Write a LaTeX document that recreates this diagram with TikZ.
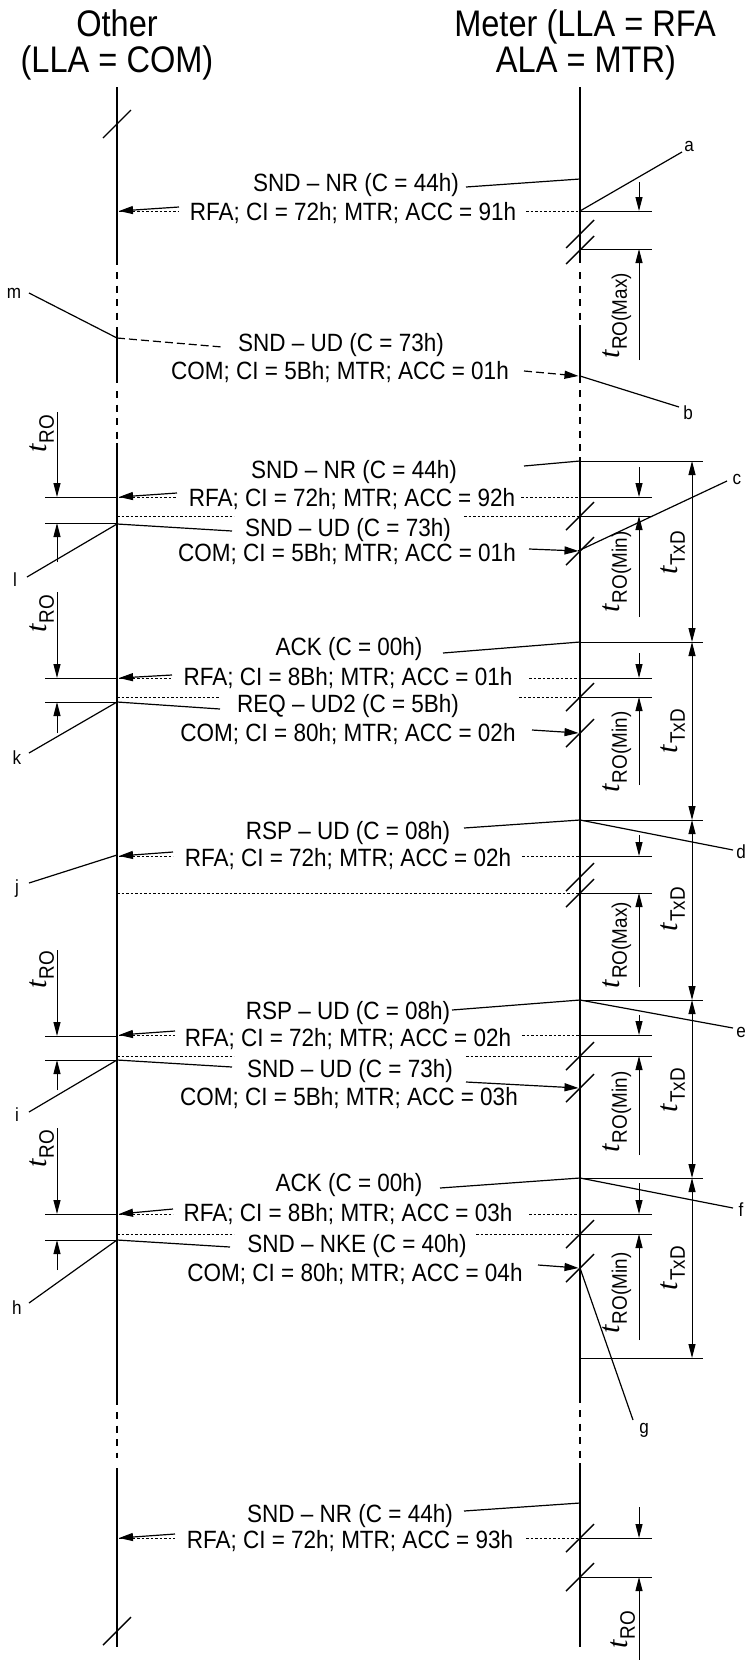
\documentclass[tikz,border=0pt]{standalone}
\usepackage{fontspec}
\setmainfont{Liberation Sans}
\newfontfamily\msgfont{Liberation Sans}[FakeStretch=0.9]
\newfontfamily\hdrfont{Liberation Sans}[FakeStretch=0.88]
\newfontfamily\tserif{Liberation Serif}
\usetikzlibrary{arrows.meta}
\newcommand{\tlab}[1]{{\tserif\itshape\fontsize{30}{30}\selectfont t}\kern1pt\raisebox{-7pt}{\msgfont\fontsize{21}{21}\selectfont #1}}
\newcommand{\slashmark}[2]{\draw[slashl] ({#1-14},{#2+14}) -- ({#1+14},{#2-14});}
\begin{document}
\begin{tikzpicture}[x=1pt,y=-1pt,
 life/.style={line width=2.6pt},
 lifedash/.style={line width=2.6pt,dash pattern=on 7pt off 6.5pt},
 thinl/.style={line width=1.2pt},
 dotl/.style={line width=1pt,dash pattern=on 2.5pt off 2pt},
 dashl/.style={line width=1.2pt,dash pattern=on 8pt off 4pt},
 arr/.style={-{Triangle[length=14pt,width=8pt]}},
 diml/.style={line width=1pt,-{Triangle[length=14pt,width=7pt]}},
 dimb/.style={line width=1pt,{Triangle[length=14pt,width=7pt]}-{Triangle[length=14pt,width=7pt]}},
 refl/.style={line width=1pt},
 slashl/.style={line width=1.4pt},
 msg/.style={font=\msgfont\fontsize{25}{28}\selectfont,anchor=base,inner sep=0pt},
 hdr/.style={font=\hdrfont\fontsize{37}{40}\selectfont,anchor=base,inner sep=0pt},
 lbl/.style={font=\msgfont\fontsize{19}{21}\selectfont,inner sep=0pt},
 tl/.style={rotate=90,inner sep=0pt}]
\fill[white] (0,0) rectangle (747,1660);
\useasboundingbox (0,0) rectangle (747,1660);
% headers
\node[hdr] (h1) at (117,36) {Other};
\node[hdr] (h2) at (117,72) {(LLA = COM)};
\node[hdr] (h3) at (585,36) {Meter (LLA = RFA};
\node[hdr] (h4) at (586,72) {ALA = MTR)};
% lifelines
\coordinate (Lt) at (117,87); \coordinate (Rt) at (580,87);
\coordinate (Lb) at (117,1647); \coordinate (Rb) at (580,1647);
\draw[life] (Lt) -- (117,265);
\draw[lifedash] (117,272) -- (117,323);
\draw[life] (117,327) -- (117,383);
\draw[lifedash] (117,391) -- (117,440);
\draw[life] (117,443) -- (117,1405);
\draw[lifedash] (117,1412) -- (117,1458);
\draw[life] (117,1468) -- (Lb);
\draw[life] (Rt) -- (580,263);
\draw[lifedash] (580,272) -- (580,321);
\draw[life] (580,325) -- (580,383);
\draw[lifedash] (580,390) -- (580,452);
\draw[life] (580,457) -- (580,1403);
\draw[lifedash] (580,1410) -- (580,1458);
\draw[life] (580,1463) -- (Rb);
% left slashes
\slashmark{117}{124}
\slashmark{117}{1631}
% right slashes
\slashmark{580}{234}\slashmark{580}{250}
\slashmark{580}{516}\slashmark{580}{551}
\slashmark{580}{697}\slashmark{580}{733}
\slashmark{580}{877}\slashmark{580}{893}
\slashmark{580}{1056}\slashmark{580}{1088}
\slashmark{580}{1234}\slashmark{580}{1268}
\slashmark{580}{1538}\slashmark{580}{1577}
% messages text
\node[msg] (m1) at (356,191) {SND – NR (C = 44h)};
\node[msg] (r1) at (353,220) {RFA; CI = 72h; MTR; ACC = 91h};
\node[msg] (m2) at (341,351) {SND – UD (C = 73h)};
\node[msg] (r2) at (340,379) {COM; CI = 5Bh; MTR; ACC = 01h};
\node[msg] (m3) at (354,478) {SND – NR (C = 44h)};
\node[msg] (r3) at (352,506) {RFA; CI = 72h; MTR; ACC = 92h};
\node[msg] (m4) at (348,536) {SND – UD (C = 73h)};
\node[msg] (r4) at (347,561) {COM; CI = 5Bh; MTR; ACC = 01h};
\node[msg] (m5) at (349,655) {ACK (C = 00h)};
\node[msg] (r5) at (348,685) {RFA; CI = 8Bh; MTR; ACC = 01h};
\node[msg] (m6) at (348,712) {REQ – UD2 (C = 5Bh)};
\node[msg] (r6) at (348,741) {COM; CI = 80h; MTR; ACC = 02h};
\node[msg] (m7) at (348,839) {RSP – UD (C = 08h)};
\node[msg] (r7) at (348,866) {RFA; CI = 72h; MTR; ACC = 02h};
\node[msg] (m8) at (348,1019) {RSP – UD (C = 08h)};
\node[msg] (r8) at (348,1046) {RFA; CI = 72h; MTR; ACC = 02h};
\node[msg] (m9) at (350,1077) {SND – UD (C = 73h)};
\node[msg] (r9) at (349,1105) {COM; CI = 5Bh; MTR; ACC = 03h};
\node[msg] (m10) at (349,1191) {ACK (C = 00h)};
\node[msg] (r10) at (348,1221) {RFA; CI = 8Bh; MTR; ACC = 03h};
\node[msg] (m11) at (357,1252) {SND – NKE (C = 40h)};
\node[msg] (r11) at (355,1281) {COM; CI = 80h; MTR; ACC = 04h};
\node[msg] (m12) at (350,1522) {SND – NR (C = 44h)};
\node[msg] (r12) at (350,1548) {RFA; CI = 72h; MTR; ACC = 93h};
% leaders of frames
\draw[thinl] (466,187) -- (580,179);
\draw[dashl] (117,338) -- (222,347);
\draw[thinl] (524,466) -- (580,461);
\draw[thinl] (117,524) -- (232,531);
\draw[thinl] (443,653) -- (580,642);
\draw[thinl] (117,702) -- (220,709);
\draw[thinl] (464,828) -- (580,820);
\draw[thinl] (452,1010) -- (580,1000);
\draw[thinl] (117,1060) -- (232,1067);
\draw[thinl] (440,1188) -- (580,1178);
\draw[thinl] (117,1240) -- (230,1247);
\draw[thinl] (464,1511) -- (580,1503);
% left-going arrows (RFA)
\foreach \xa/\ya/\yb in {179/207/211, 177/493/497, 172/675/678, 173/852/856, 175/1031/1035, 173/1209/1214, 175/1534/1538}{
  \draw[thinl,arr] (\xa,\ya) -- (119,\yb);
  \draw[dotl] (119,\yb) -- (\xa,\yb);
}
% right dotted parts
\draw[dotl] (526,211) -- (580,211);
\draw[dotl] (521,497) -- (580,497);
\draw[dotl] (529,678) -- (580,678);
\draw[dotl] (522,856) -- (580,856);
\draw[dotl] (522,1035) -- (580,1035);
\draw[dotl] (529,1214) -- (580,1214);
\draw[dotl] (526,1538) -- (580,1538);
% dotted frame lines
\draw[dotl] (117,516) -- (234,516); \draw[dotl] (464,516) -- (580,516);
\draw[dotl] (117,697) -- (220,697); \draw[dotl] (519,697) -- (580,697);
\draw[dotl] (117,893) -- (580,893);
\draw[dotl] (117,1056) -- (234,1056); \draw[dotl] (466,1056) -- (580,1056);
\draw[dotl] (117,1234) -- (234,1234); \draw[dotl] (476,1234) -- (580,1234);
% right-going arrows (COM)
\draw[dashl,arr] (524,371) -- (578.5,376);
\draw[thinl,arr] (529,549) -- (578.5,551);
\draw[thinl,arr] (532,730) -- (578.5,733);
\draw[thinl,arr] (466,1082) -- (578.5,1088);
\draw[thinl,arr] (538,1265) -- (578.5,1268);
% right reference lines
\foreach \y in {211,249,497,516,678,697,856,893,1035,1056,1214,1234,1538,1577}{\draw[refl] (580,\y) -- (652,\y);}
\foreach \y in {461,642,820,1000,1178,1358}{\draw[refl] (580,\y) -- (703,\y);}
% right dimension arrows
\foreach \ya/\yb/\yc/\yd in {182/211/360/249, 467/497/617/516, 653/678/785/697, 835/856/987/893, 1015/1035/1155/1056, 1183/1214/1340/1234, 1507/1538/1660/1577}{
  \draw[diml] (639,\ya) -- (639,\yb);
  \draw[diml] (639,\yc) -- (639,\yd);
}
\foreach \ya/\yb in {461/642, 642/820, 820/1000, 1000/1178, 1178/1358}{\draw[dimb] (692,\ya) -- (692,\yb);}
% left reference lines and arrows
\foreach \y in {497,523,678,702,1036,1060,1214,1240}{\draw[refl] (45,\y) -- (117,\y);}
\foreach \ya/\yb/\yc/\yd in {412/497/562/523, 592/678/733/702, 950/1036/1090/1060, 1128/1214/1270/1240}{
  \draw[diml] (57,\ya) -- (57,\yb);
  \draw[diml] (57,\yc) -- (57,\yd);
}
% time labels
\node[tl] (t1) at (617,316) {\tlab{RO(Max)}};
\node[tl] (t2) at (617,572) {\tlab{RO(Min)}};
\node[tl] (t3) at (617,752) {\tlab{RO(Min)}};
\node[tl] (t4) at (617,945) {\tlab{RO(Max)}};
\node[tl] (t5) at (617,1112) {\tlab{RO(Min)}};
\node[tl] (t6) at (617,1293) {\tlab{RO(Min)}};
\node[tl] (t7) at (623,1630) {\tlab{RO}};
\node[tl] (x1) at (673,553) {\tlab{TxD}};
\node[tl] (x2) at (673,731) {\tlab{TxD}};
\node[tl] (x3) at (673,909) {\tlab{TxD}};
\node[tl] (x4) at (673,1090) {\tlab{TxD}};
\node[tl] (x5) at (673,1268) {\tlab{TxD}};
\node[tl] (l1) at (42,434) {\tlab{RO}};
\node[tl] (l2) at (42,614) {\tlab{RO}};
\node[tl] (l3) at (42,970) {\tlab{RO}};
\node[tl] (l4) at (42,1149) {\tlab{RO}};
% reference letters
\node[lbl] (la) at (689,146) {a};
\node[lbl] (lb) at (688,413) {b};
\node[lbl] (lc) at (737,479) {c};
\node[lbl] (ld) at (741,852) {d};
\node[lbl] (le) at (741,1032) {e};
\node[lbl] (lf) at (741,1210) {f};
\node[lbl] (lg) at (644,1430) {g};
\node[lbl] (lh) at (17,1308) {h};
\node[lbl] (li) at (17,1115) {i};
\node[lbl] (lj) at (17,889) {j};
\node[lbl] (lk) at (17,758) {k};
\node[lbl] (ll) at (15,580) {l};
\node[lbl] (lm) at (14,293) {m};
\draw[thinl] (580,211) -- (682,152);
\draw[thinl] (580,376) -- (679,407);
\draw[thinl] (578,551) -- (727,481);
\draw[thinl] (580,820) -- (733,850);
\draw[thinl] (580,1000) -- (733,1028);
\draw[thinl] (580,1178) -- (733,1208);
\draw[thinl] (580,1268) -- (633,1420);
\draw[thinl] (29,1303) -- (117,1240);
\draw[thinl] (29,1112) -- (117,1060);
\draw[thinl] (29,883) -- (117,855);
\draw[thinl] (29,753) -- (117,702);
\draw[thinl] (27,577) -- (117,524);
\draw[thinl] (29,293) -- (117,338);
\end{tikzpicture}
\end{document}
